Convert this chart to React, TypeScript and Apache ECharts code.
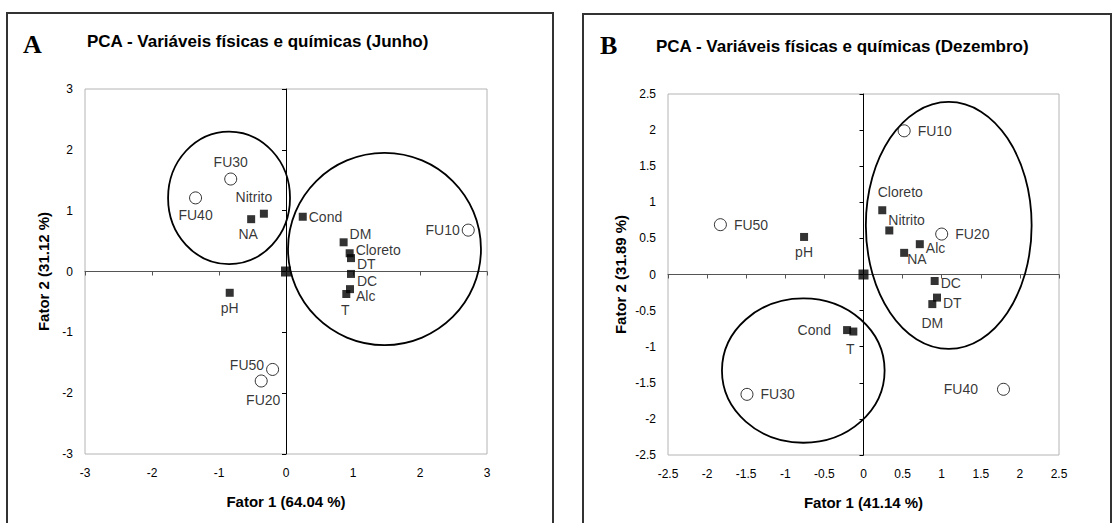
import React, { useEffect, useRef } from "react";
import * as echarts from "echarts";

// ---------- Data: Panel A (Junho) ----------
const titleA = "PCA - Variáveis físicas e químicas (Junho)";
const xNameA = "Fator 1 (64.04 %)";
const yNameA = "Fator 2 (31.12 %)";
const varNamesA = ["Nitrito", "NA", "Cond", "DM", "Cloreto", "DT", "DC", "Alc", "T", "pH"];
const varXA = [-0.33, -0.52, 0.25, 0.86, 0.95, 0.97, 0.97, 0.955, 0.9, -0.84];
const varYA = [0.95, 0.86, 0.9, 0.48, 0.3, 0.22, -0.04, -0.29, -0.37, -0.35];
const siteNamesA = ["FU10", "FU20", "FU30", "FU40", "FU50"];
const siteXA = [2.72, -0.37, -0.825, -1.35, -0.2];
const siteYA = [0.68, -1.8, 1.52, 1.21, -1.61];
const groupCxA = [-0.85, 1.47];
const groupCyA = [1.21, 0.37];
const groupRxA = [0.91, 1.44];
const groupRyA = [1.09, 1.58];

// ---------- Data: Panel B (Dezembro) ----------
const titleB = "PCA - Variáveis físicas e químicas (Dezembro)";
const xNameB = "Fator 1 (41.14 %)";
const yNameB = "Fator 2 (31.89 %)";
const varNamesB = ["Cloreto", "Nitrito", "pH", "Alc", "NA", "DC", "DT", "DM", "Cond", "T"];
const varXB = [0.24, 0.33, -0.76, 0.72, 0.52, 0.91, 0.94, 0.88, -0.21, -0.13];
const varYB = [0.89, 0.61, 0.52, 0.42, 0.3, -0.09, -0.32, -0.41, -0.77, -0.79];
const siteNamesB = ["FU10", "FU20", "FU30", "FU40", "FU50"];
const siteXB = [0.52, 1.0, -1.49, 1.79, -1.83];
const siteYB = [1.99, 0.56, -1.66, -1.59, 0.69];
const groupCxB = [1.09, -0.77];
const groupCyB = [0.68, -1.33];
const groupRxB = [1.06, 1.04];
const groupRyB = [1.71, 1.0];

const originX = [0];
const originY = [0];

// axis ranges
const rangeA = { min: -3, max: 3, interval: 1 };
const rangeB = { min: -2.5, max: 2.5, interval: 0.5 };

// ---------- Label styles (presentation only) ----------
type Lab = [string, number, number, number?];
const labStyleA: Record<string, Lab> = {
  Nitrito: ["top", -10, -2],
  NA: ["bottom", -3, 0],
  Cond: ["right", 0, 0, 2],
  DM: ["right", 0, -8, 2],
  Cloreto: ["right", 0, -3, 2],
  DT: ["right", 0, 6, 2],
  DC: ["right", 0, 7, 2],
  Alc: ["right", 0, 7, 2],
  T: ["bottom", -1, 1],
  pH: ["bottom", 0, 0],
  FU10: ["left", 0, 0, 2],
  FU20: ["bottom", 2, 1],
  FU30: ["top", 0, 0],
  FU40: ["bottom", 0, 0],
  FU50: ["left", 0, -4, 2],
};
const labStyleB: Record<string, Lab> = {
  Cloreto: ["top", 18, -3],
  Nitrito: ["right", -7, -10, 2],
  pH: ["bottom", 0, 0],
  Alc: ["right", 0, 4, 2],
  NA: ["right", -3, 6, 2],
  DC: ["right", 0, 2, 2],
  DT: ["right", 0, 5, 2],
  DM: ["bottom", 0, 4],
  Cond: ["left", 0, 0, 12],
  T: ["bottom", -3, 2],
  FU10: ["right", 0, 0, 7],
  FU20: ["right", 0, 0, 7],
  FU30: ["right", 0, 0, 7],
  FU40: ["left", 0, 0, 19],
  FU50: ["right", 0, 0, 7],
};

const FONT = "Liberation Sans, Arial, sans-serif";

function pts(names: string[], xs: number[], ys: number[], styles: Record<string, Lab>) {
  return names.map((n, i) => {
    const s = styles[n] || ["right", 0, 0, 3];
    return {
      name: n,
      value: [xs[i], ys[i]],
      label: {
        show: true,
        formatter: n,
        position: s[0],
        offset: [s[1], s[2]],
        distance: s[3] ?? 4,
        color: "#000",
        fontSize: 14,
        fontFamily: FONT,
      },
    };
  });
}

function ellipses(cx: number[], cy: number[], rx: number[], ry: number[]) {
  return cx.map((c, i) => [c, cy[i], rx[i], ry[i]]);
}

function axesFor(grid: number, range: any, xName: string, yName: string, xGap: number, yGap: number) {
  const labelStyle = { color: "#000", fontSize: 12, fontFamily: FONT };
  const nameStyle = { color: "#000", fontSize: 15, fontWeight: "bold", fontFamily: FONT };
  const xAxes = [
    {
      type: "value", gridIndex: grid, ...range, position: "bottom",
      axisLine: { show: false, onZero: false }, axisTick: { show: false }, splitLine: { show: false },
      axisLabel: { ...labelStyle, margin: 13 },
      name: xName, nameLocation: "middle", nameGap: xGap, nameTextStyle: nameStyle,
    },
    {
      type: "value", gridIndex: grid, ...range, position: "bottom",
      axisLine: { show: true, onZero: true, lineStyle: { color: "#555", width: 1 } },
      axisTick: { show: true, length: 4, lineStyle: { color: "#555" } },
      axisLabel: { show: false }, splitLine: { show: false },
    },
  ];
  const yAxes = [
    {
      type: "value", gridIndex: grid, ...range, position: "left",
      axisLine: { show: false, onZero: false }, axisTick: { show: false }, splitLine: { show: false },
      axisLabel: { ...labelStyle, margin: 12 },
      name: yName, nameLocation: "middle", nameGap: yGap, nameTextStyle: nameStyle,
    },
    {
      type: "value", gridIndex: grid, ...range, position: "left",
      axisLine: { show: true, onZero: true, lineStyle: { color: "#000", width: 1 } },
      axisTick: { show: true, length: 4, lineStyle: { color: "#000" } },
      axisLabel: { show: false }, splitLine: { show: false },
    },
  ];
  return { xAxes, yAxes };
}

function seriesFor(axisIdx: number, varPts: any[], sitePts: any[], ell: number[][]) {
  return [
    {
      type: "custom",
      xAxisIndex: axisIdx, yAxisIndex: axisIdx,
      data: ell,
      silent: true,
      z: 3,
      renderItem: (params: any, api: any) => {
        const c = api.coord([api.value(0), api.value(1)]);
        const s = api.size([api.value(2), api.value(3)]);
        return {
          type: "ellipse",
          shape: { cx: c[0], cy: c[1], rx: s[0], ry: s[1] },
          style: { fill: "none", stroke: "#000", lineWidth: 1.8 },
        };
      },
    },
    {
      type: "scatter",
      xAxisIndex: axisIdx, yAxisIndex: axisIdx,
      symbol: "rect", symbolSize: 8,
      itemStyle: { color: "#000" },
      data: varPts, z: 4,
    },
    {
      type: "scatter",
      xAxisIndex: axisIdx, yAxisIndex: axisIdx,
      symbol: "rect", symbolSize: 10,
      itemStyle: { color: "#000" },
      data: originX.map((x, i) => [x, originY[i]]), z: 4,
    },
    {
      type: "scatter",
      xAxisIndex: axisIdx, yAxisIndex: axisIdx,
      symbol: "circle", symbolSize: 12,
      itemStyle: { color: "#fff", borderColor: "#000", borderWidth: 1 },
      data: sitePts, z: 4,
    },
  ];
}

export default function App() {
  const ref = useRef<HTMLDivElement>(null);
  useEffect(() => {
    if (!ref.current) return;
    const chart = echarts.init(ref.current, undefined, { renderer: "svg" });
    const a = axesFor(0, rangeA, xNameA, yNameA, 40, 34);
    const b = axesFor(1, rangeB, xNameB, yNameB, 40, 40);
    const titleStyle = { color: "#000", fontSize: 17, fontWeight: "bold", fontFamily: FONT };
    const letterStyle = { color: "#000", fontSize: 26, fontWeight: "bold", fontFamily: "Liberation Serif, Times New Roman, serif" };
    chart.setOption({
      animation: false,
      backgroundColor: "#fff",
      title: [
        { text: titleA, left: 87, top: 33, padding: 0, textStyle: titleStyle },
        { text: titleB, left: 656, top: 38, padding: 0, textStyle: titleStyle },
        { text: "A", left: 23, top: 31, padding: 0, textStyle: letterStyle },
        { text: "B", left: 600, top: 32, padding: 0, textStyle: letterStyle },
      ],
      grid: [
        { left: 85, top: 89, width: 402, height: 365, show: true, borderColor: "#b4b4b4", borderWidth: 1, backgroundColor: "transparent" },
        { left: 668, top: 94, width: 391, height: 361, show: true, borderColor: "#b4b4b4", borderWidth: 1, backgroundColor: "transparent" },
      ],
      xAxis: [...a.xAxes, ...b.xAxes],
      yAxis: [...a.yAxes, ...b.yAxes],
      graphic: [
        { type: "rect", shape: { x: 7, y: 13, width: 546, height: 530 }, style: { fill: "none", stroke: "#333", lineWidth: 2 }, silent: true },
        { type: "rect", shape: { x: 583, y: 14, width: 528, height: 530 }, style: { fill: "none", stroke: "#333", lineWidth: 2 }, silent: true },
      ],
      series: [
        ...seriesFor(0, pts(varNamesA, varXA, varYA, labStyleA), pts(siteNamesA, siteXA, siteYA, labStyleA), ellipses(groupCxA, groupCyA, groupRxA, groupRyA)),
        ...seriesFor(2, pts(varNamesB, varXB, varYB, labStyleB), pts(siteNamesB, siteXB, siteYB, labStyleB), ellipses(groupCxB, groupCyB, groupRxB, groupRyB)),
      ],
    });
    return () => chart.dispose();
  }, []);
  return <div ref={ref} style={{ position: "absolute", left: 0, top: 0, width: 1116, height: 523 }} />;
}
